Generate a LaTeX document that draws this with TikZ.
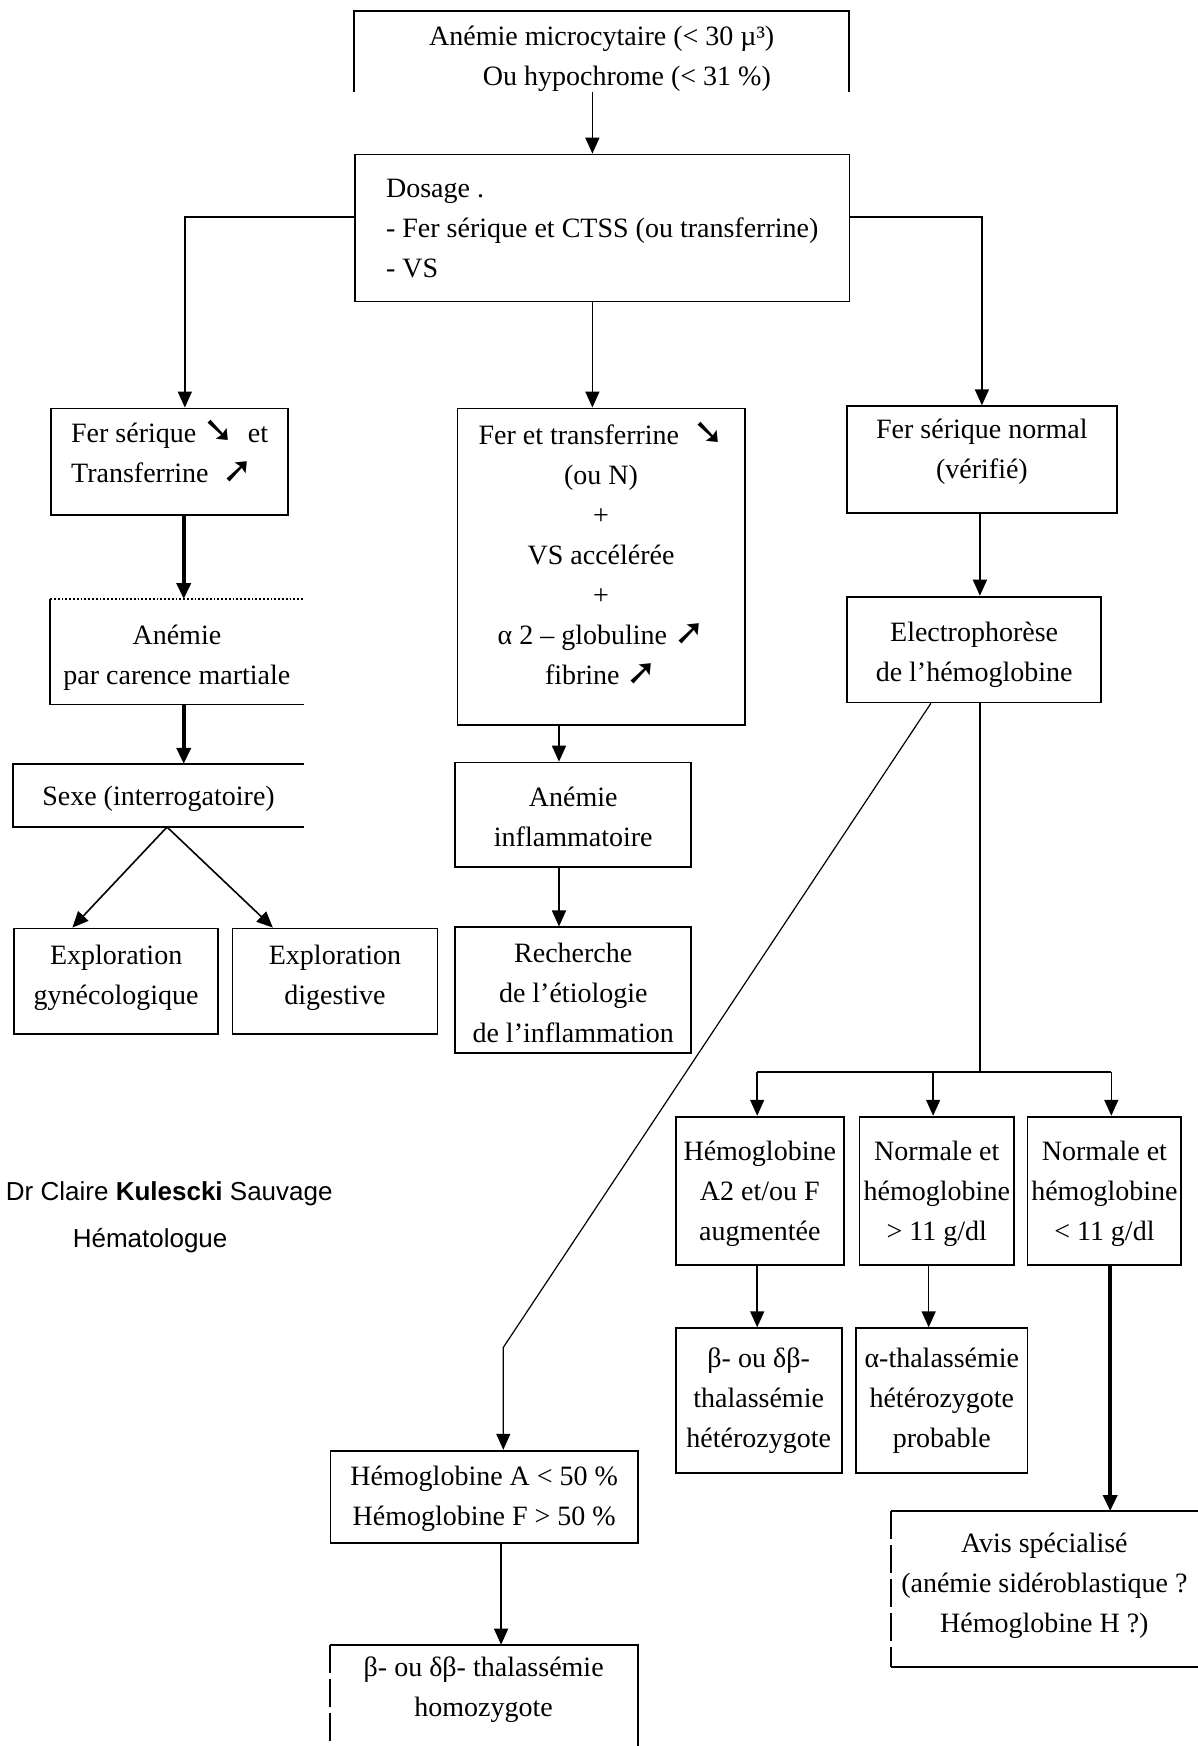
\documentclass[tikz,border=0pt]{standalone}
\usepackage{fontspec}
\setmainfont{Liberation Serif}
\newfontfamily\symf{DejaVu Sans}
\newfontfamily\authf{Liberation Sans}
\usetikzlibrary{arrows.meta}
\newcommand\arrDn{\scalebox{1.3}{\symf\bfseries ➘}}
\newcommand\arrUp{\scalebox{1.3}{\symf\bfseries ➚}}
% #1 text shift (px, down positive), #2 style, #3 name, #4 x1, #5 y1, #6 x2, #7 y2, #8 text
\newcommand\mybox[8][0]{%
  \node[#2, anchor=north west, minimum width={(#6-#4)*0.55675pt}, minimum height={(#7-#5)*0.55675pt}] (#3) at (#4,#5) {};
  \node[txt, #2, draw=none, shift={(0,#1)}] (#3-t) at (#3.center) {#8};}
\begin{document}
\begin{tikzpicture}[x=0.55675pt,y=-0.55675pt, font=\fontsize{14}{20}\selectfont,
  frame/.style={draw, line width=0.9pt, inner sep=2pt, align=center},
  openbox/.style={inner sep=2pt, align=center},
  txt/.style={inner sep=0pt, minimum width=0pt, minimum height=0pt},
  arr/.style={line width=0.8pt, -{Triangle[length=8pt,width=7pt]}},
  tarr/.style={line width=1.8pt, -{Triangle[length=8pt,width=7pt]}},
  ln/.style={line width=0.9pt},
  auth/.style={font=\authf\fontsize{13}{16}\selectfont, anchor=west, inner sep=0pt}]
\useasboundingbox (0,0) rectangle (1075,1568);
\fill[white] (0,0) rectangle (1075,1568);

% top
\mybox[6]{openbox}{top}{318}{10}{762}{82}{Anémie microcytaire (< 30 µ³)\\\hspace*{1.8em}Ou hypochrome (< 31 \%)}
\draw[ln] (top.south west) -- (top.north west) -- (top.north east) -- (top.south east);
\mybox{frame, align=left}{dos}{318}{138}{762}{270}{Dosage .\\- Fer sérique et CTSS (ou transferrine)\\- VS}

% left column
\mybox[-9]{frame, align=left}{fs}{45}{366}{258}{462}{Fer sérique \arrDn\ \ et\\Transferrine \ \arrUp}
\mybox[5]{openbox}{carm}{45}{538}{272}{632}{Anémie\\par carence martiale}
\draw[ln, densely dotted] (carm.north west) -- (carm.north east);
\draw[ln] (carm.north west) -- (carm.south west) -- (carm.south east);
\mybox[3]{openbox}{sexe}{12}{686}{272}{742}{Sexe (interrogatoire)}
\draw[ln] (sexe.north east) -- (sexe.north west) -- (sexe.south west) -- (sexe.south east);
\mybox[-3]{frame}{gyn}{12}{833}{195}{928}{Exploration\\gynécologique}
\mybox[-3]{frame}{dig}{208}{833}{392}{928}{Exploration\\digestive}

% middle column
\mybox[-12]{frame}{inf}{410}{366}{668}{650}{Fer et transferrine \ \arrDn\\(ou N)\\+\\VS accélérée\\+\\α 2 – globuline \arrUp\\fibrine \arrUp}
\mybox[2]{frame}{ainf}{408}{684}{620}{778}{Anémie\\inflammatoire}
\mybox[2]{frame}{rech}{408}{832}{620}{945}{Recherche\\de l'étiologie\\de l'inflammation}

% right column
\mybox[-7]{frame}{fsn}{760}{364}{1002}{460}{Fer sérique normal\\(vérifié)}
\mybox[5]{frame}{elec}{760}{535}{988}{630}{Electrophorèse\\de l'hémoglobine}
\mybox[3]{frame}{hba2}{606}{1002}{757}{1135}{Hémoglobine\\A2 et/ou F\\augmentée}
\mybox[3]{frame}{nsup}{771}{1002}{910}{1135}{Normale et\\hémoglobine\\> 11 g/dl}
\mybox[3]{frame}{ninf}{922}{1002}{1060}{1135}{Normale et\\hémoglobine\\< 11 g/dl}
\mybox{frame}{bhet}{606}{1192}{755}{1322}{β- ou δβ-\\thalassémie\\hétérozygote}
\mybox{frame}{ahet}{768}{1192}{922}{1322}{α-thalassémie\\hétérozygote\\probable}
\mybox[-3]{openbox}{avis}{800}{1357}{1075}{1496}{Avis spécialisé\\(anémie sidéroblastique ?\\Hémoglobine H ?)}
\draw[ln] (avis.north east) -- (avis.north west);
\draw[ln, dash pattern=on 14pt off 3pt] (avis.north west) -- (avis.south west);
\draw[ln] (avis.south west) -- (avis.south east);

% bottom
\mybox[2]{frame}{hbaf}{296}{1302}{572}{1385}{Hémoglobine A < 50 \%\\Hémoglobine F > 50 \%}
\mybox[2]{openbox}{bhom}{296}{1477}{572}{1553}{β- ou δβ- thalassémie\\homozygote}
\coordinate (ybot) at (0,1568);
\draw[ln, dash pattern=on 14pt off 3pt] (bhom.north west) -- (bhom.north west |- ybot);
\draw[ln] (bhom.north west) -- (bhom.north east) -- (bhom.north east |- ybot);

% author
\node[auth] (auth1) at (5,1072) {Dr Claire \textbf{Kulescki} Sauvage};
\node[auth] (auth2) at (65,1114) {Hématologue};

% connectors
\coordinate (xa) at (532,0);
\coordinate (yb) at (0,195);
\coordinate (xl) at (166,0);
\draw[arr] (top.south -| xa) -- (dos.north -| xa);
\draw[arr] (dos.west |- yb) -| (fs.north -| xl);
\draw[arr] (dos.east |- yb) -| (fsn.north);
\draw[arr] (dos.south -| xa) -- (inf.north -| xa);

\coordinate (xl2) at (165,0);
\draw[tarr] (fs.south -| xl2) -- (carm.north -| xl2);
\draw[tarr] (carm.south -| xl2) -- (sexe.north -| xl2);
\coordinate (xs) at (150,0);
\coordinate (xg) at (65,0);
\coordinate (xd) at (245,0);
\draw[arr] (sexe.south -| xs) -- (gyn.north -| xg);
\draw[arr] (sexe.south -| xs) -- (dig.north -| xd);

\coordinate (xc) at (502,0);
\draw[arr] (inf.south -| xc) -- (ainf.north -| xc);
\draw[arr] (ainf.south -| xc) -- (rech.north -| xc);

\coordinate (xr) at (880,0);
\draw[arr] (fsn.south -| xr) -- (elec.north -| xr);
\coordinate (jn) at (880,963);
\coordinate (x1) at (680,0);
\coordinate (x2) at (838,0);
\coordinate (x3) at (998,0);
\draw[ln] (elec.south -| xr) -- (jn);
\draw[ln] (jn -| x1) -- (jn -| x3);
\draw[arr] (jn -| x1) -- (hba2.north -| x1);
\draw[arr] (jn -| x2) -- (nsup.north -| x2);
\draw[arr] (jn -| x3) -- (ninf.north -| x3);

\coordinate (xe) at (836,0);
\coordinate (bend) at (452,1210);
\draw[arr, line width=0.6pt] (elec.south -| xe) -- (bend) -- (hbaf.north -| bend);

\coordinate (x4) at (834,0);
\coordinate (x5) at (997,0);
\coordinate (x6) at (450,0);
\draw[arr] (hba2.south -| x1) -- (bhet.north -| x1);
\draw[arr] (nsup.south -| x4) -- (ahet.north -| x4);
\draw[tarr] (ninf.south -| x5) -- (avis.north -| x5);
\draw[arr] (hbaf.south -| x6) -- (bhom.north -| x6);
\end{tikzpicture}
\end{document}
